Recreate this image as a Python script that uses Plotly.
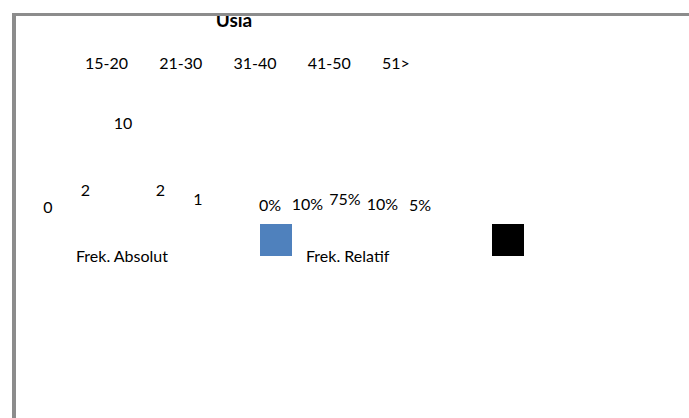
import plotly.graph_objects as go

# Age groups and their frequencies
categories = ["15-20", "21-30", "31-40", "41-50", "51>"]
frek_absolut = [0, 2, 10, 2, 1]
frek_relatif = [0, 10, 75, 10, 5]  # percent
relatif_labels = [f"{v}%" for v in frek_relatif]

W, H = 689, 418
FONT = "Lato, 'Open Sans', sans-serif"
TEXT_SIZE = 16
BORDER = "#8c8c8c"


def px_x(px):
    return px / W


def px_y(py):
    return 1 - py / H


def x_range(px0, step):
    # numeric axis range so that index i lands at px0 + step * i
    return [-px0 / step, (W - px0) / step]


def y_range(py0, step):
    # numeric axis range so that value v lands at py0 - step * v (pixels from top)
    return [(py0 - H) / step, py0 / step]


fig = go.Figure()

# absolute frequency labels
fig.add_trace(go.Scatter(
    x=list(range(len(frek_absolut))), y=frek_absolut,
    text=[str(v) for v in frek_absolut], mode="text",
    textposition="middle center",
    textfont=dict(family=FONT, size=TEXT_SIZE, color="#000000"),
    xaxis="x", yaxis="y", showlegend=False, hoverinfo="skip",
))

# relative frequency labels
fig.add_trace(go.Scatter(
    x=list(range(len(frek_relatif))), y=frek_relatif,
    text=relatif_labels, mode="text",
    textposition="middle center",
    textfont=dict(family=FONT, size=TEXT_SIZE, color="#000000"),
    xaxis="x2", yaxis="y2", showlegend=False, hoverinfo="skip",
))

# empty trace carrying the category axis
fig.add_trace(go.Scatter(
    x=list(range(len(categories))), y=[None] * len(categories),
    mode="markers", xaxis="x3", yaxis="y", showlegend=False,
    hoverinfo="skip",
))

# chart title, kept in the plot layer so the frame is drawn over it
fig.add_trace(go.Scatter(
    x=[px_x(234)], y=[px_y(22)], text=["<b>Usia</b>"], mode="text",
    textposition="middle center",
    textfont=dict(family=FONT, size=19, color="#000000"),
    xaxis="x4", yaxis="y4", showlegend=False, hoverinfo="skip",
))

hidden = dict(visible=False, showgrid=False, zeroline=False, fixedrange=True)

fig.update_layout(
    width=W, height=H,
    margin=dict(l=0, r=0, t=0, b=0),
    paper_bgcolor="white", plot_bgcolor="rgba(0,0,0,0)",
    font=dict(family=FONT, size=TEXT_SIZE, color="#000000"),
    xaxis=dict(domain=[0, 1], range=x_range(48, 37.5), **hidden),
    yaxis=dict(domain=[0, 1], range=y_range(209, 8.4), **hidden),
    xaxis2=dict(overlaying="x", range=x_range(270, 37.5), **hidden),
    yaxis2=dict(overlaying="y", range=y_range(207, 0.08), **hidden),
    xaxis3=dict(
        overlaying="x", side="top", anchor="free", position=px_y(72),
        range=x_range(85, 74.25),
        tickmode="array", tickvals=list(range(len(categories))),
        ticktext=categories, ticklabelposition="outside right",
        showline=False, showgrid=False, zeroline=False, ticks="",
        tickfont=dict(family=FONT, size=TEXT_SIZE, color="#000000"),
        fixedrange=True,
    ),
    xaxis4=dict(overlaying="x", range=[0, 1], **hidden),
    yaxis4=dict(overlaying="y", range=[0, 1], **hidden),
    showlegend=False,
)

# outer frame: left and top edges
fig.add_shape(type="rect", xref="paper", yref="paper",
              x0=px_x(12), x1=px_x(16), y0=px_y(H), y1=px_y(13),
              fillcolor=BORDER, line_width=0, layer="above")
fig.add_shape(type="rect", xref="paper", yref="paper",
              x0=px_x(12), x1=px_x(W), y0=px_y(16), y1=px_y(13),
              fillcolor=BORDER, line_width=0, layer="above")

# legend keys
fig.add_shape(type="rect", xref="paper", yref="paper",
              x0=px_x(260), x1=px_x(292), y0=px_y(256), y1=px_y(224),
              fillcolor="#4F81BD", line_width=0)
fig.add_shape(type="rect", xref="paper", yref="paper",
              x0=px_x(492), x1=px_x(524), y0=px_y(256), y1=px_y(224),
              fillcolor="#000000", line_width=0)

for label, left in (("Frek. Absolut", 74), ("Frek. Relatif", 304)):
    fig.add_annotation(
        text=label, xref="paper", yref="paper",
        x=px_x(left), y=px_y(255), xanchor="left", yanchor="middle",
        showarrow=False, font=dict(family=FONT, size=TEXT_SIZE, color="#000000"),
    )

fig.write_html("out.html")
